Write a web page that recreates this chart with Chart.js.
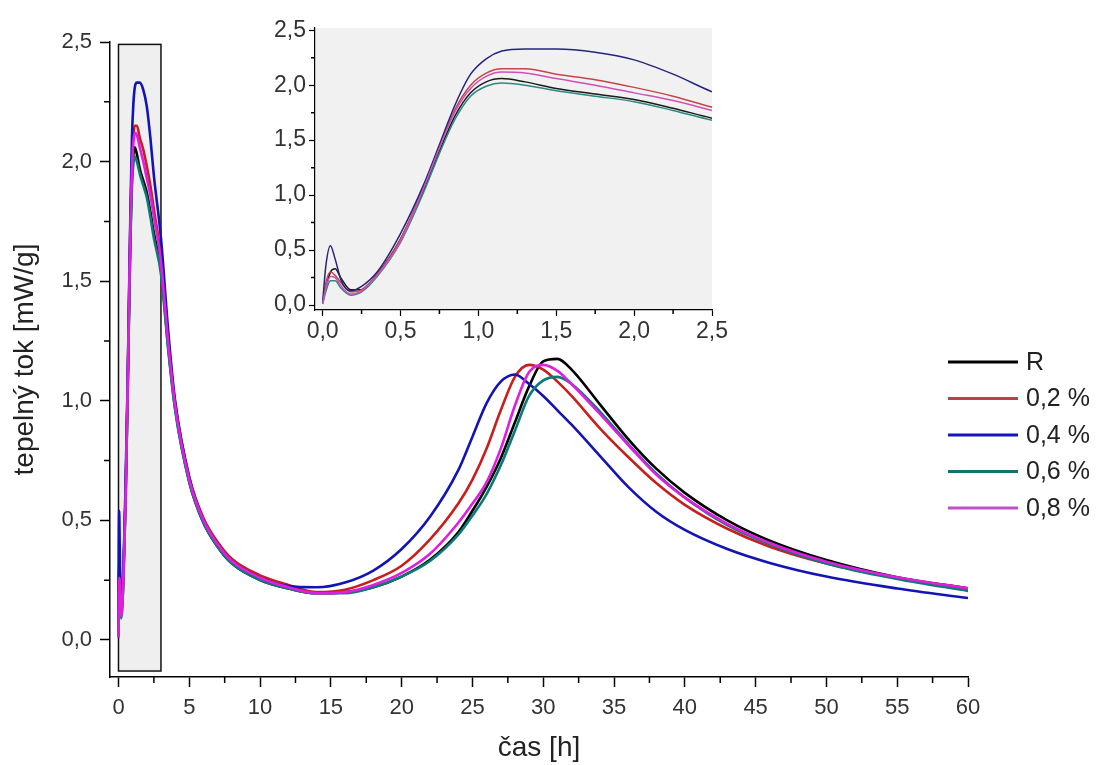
<!DOCTYPE html>
<html>
<head>
<meta charset="utf-8">
<script src="https://cdn.jsdelivr.net/npm/chart.js@4.4.0/dist/chart.umd.min.js"></script>
<style>
    body { margin: 0; background: #fff; }
    #wrap { position: relative; width: 1104px; height: 765px; }
    #main { position: absolute; left: 0; top: 0; }
    #inset { position: absolute; left: 240px; top: 10px; }
</style>
</head>
<body>
<div id="wrap">
    <canvas id="main" width="1104" height="765"></canvas>
    <canvas id="inset" width="490" height="340"></canvas>
</div>
<script>
// time [h]
var time = [0, 0.02, 0.05, 0.08, 0.12, 0.18, 0.25, 0.35, 0.5, 0.65, 0.75, 0.85, 0.95, 1.05, 1.15, 1.3, 1.5, 1.75, 2.0, 2.25, 2.5,
    3.0, 3.5, 4, 5, 6, 7, 8, 10, 12,
    14, 16, 18, 20, 22, 24, 25, 26, 27, 28, 29, 30, 31, 32, 34, 36, 38, 40, 43, 46, 50, 55, 60];

// heat flow [mW/g]
var seriesR = [0.02, 0.15, 0.30, 0.33, 0.24, 0.14, 0.14, 0.28, 0.60, 1.05, 1.40, 1.72, 1.93, 2.03, 2.06, 2.03, 1.97, 1.92, 1.87, 1.79, 1.70,
    1.55, 1.23, 0.97, 0.66, 0.49, 0.39, 0.32, 0.25, 0.215,
    0.195, 0.2, 0.22, 0.265, 0.335, 0.45, 0.54, 0.64, 0.76, 0.91, 1.06, 1.165, 1.175, 1.13, 0.985, 0.84, 0.715, 0.615, 0.50, 0.415, 0.334, 0.262, 0.216];
var series02 = [0.02, 0.20, 0.30, 0.27, 0.20, 0.12, 0.14, 0.28, 0.60, 1.08, 1.44, 1.78, 2.00, 2.11, 2.15, 2.15, 2.10, 2.05, 1.98, 1.90, 1.80,
    1.60, 1.26, 0.99, 0.68, 0.51, 0.41, 0.34, 0.27, 0.23,
    0.2, 0.21, 0.25, 0.31, 0.42, 0.57, 0.67, 0.8, 0.96, 1.1, 1.15, 1.13, 1.08, 1.02, 0.885, 0.765, 0.655, 0.565, 0.465, 0.39, 0.32, 0.26, 0.215];
var series04 = [0.02, 0.35, 0.54, 0.42, 0.22, 0.13, 0.17, 0.30, 0.65, 1.10, 1.46, 1.82, 2.10, 2.24, 2.31, 2.33, 2.33, 2.30, 2.23, 2.10, 1.94,
    1.68, 1.30, 1.00, 0.68, 0.50, 0.40, 0.33, 0.26, 0.225,
    0.22, 0.24, 0.29, 0.38, 0.515, 0.71, 0.85, 0.99, 1.08, 1.11, 1.07, 1.02, 0.96, 0.9, 0.77, 0.64, 0.535, 0.46, 0.38, 0.322, 0.265, 0.215, 0.175];
var series06 = [0.01, 0.12, 0.22, 0.22, 0.15, 0.09, 0.12, 0.26, 0.57, 1.03, 1.38, 1.69, 1.90, 1.99, 2.02, 2.00, 1.95, 1.90, 1.85, 1.77, 1.68,
    1.53, 1.22, 0.96, 0.66, 0.49, 0.39, 0.32, 0.25, 0.215,
    0.195, 0.195, 0.22, 0.265, 0.33, 0.44, 0.52, 0.61, 0.73, 0.875, 1.02, 1.085, 1.1, 1.07, 0.955, 0.82, 0.695, 0.595, 0.48, 0.4, 0.32, 0.255, 0.205];
var series08 = [0.01, 0.15, 0.26, 0.25, 0.17, 0.10, 0.13, 0.27, 0.58, 1.07, 1.43, 1.76, 1.97, 2.08, 2.12, 2.11, 2.06, 2.00, 1.93, 1.86, 1.77,
    1.58, 1.25, 0.98, 0.67, 0.50, 0.40, 0.33, 0.26, 0.22,
    0.195, 0.2, 0.23, 0.28, 0.36, 0.49, 0.57, 0.66, 0.8, 0.98, 1.12, 1.15, 1.125, 1.07, 0.945, 0.815, 0.69, 0.595, 0.485, 0.405, 0.327, 0.262, 0.216];

var seriesNames = ['R', '0,2 %', '0,4 %', '0,6 %', '0,8 %'];
var mainXTicks = [0, 5, 10, 15, 20, 25, 30, 35, 40, 45, 50, 55, 60];
var mainYTicks = [0, 0.5, 1.0, 1.5, 2.0, 2.5];
var insetTicks = [0, 0.5, 1.0, 1.5, 2.0, 2.5];

var allSeries = [seriesR, series02, series04, series06, series08];
var mainColors = ['#000000', '#c81e1e', '#1414b4', '#0a7a78', '#e01ee0'];
var insetColors = ['#1a1a1a', '#c04848', '#24247e', '#2a8a80', '#d050b8'];
var legendColors = ['#000000', '#c0404a', '#1414c0', '#107272', '#c050c8'];
var drawOrder = [5, 4, 3, 2, 1];

Chart.defaults.font.family = "'Liberation Sans', Arial, sans-serif";
Chart.defaults.color = '#333';

function buildSets(colors, width) {
    return allSeries.map(function (vals, i) {
        return {
            label: seriesNames[i],
            data: time.map(function (t, j) { return { x: t, y: vals[j] }; }),
            borderColor: colors[i],
            borderWidth: width,
            pointRadius: 0,
            fill: false,
            cubicInterpolationMode: 'monotone',
            order: drawOrder[i]
        };
    });
}

function midpoints(arr) {
    var out = [];
    for (var i = 0; i < arr.length - 1; i++) out.push((arr[i] + arr[i + 1]) / 2);
    return out;
}

function comma(v) { return v.toFixed(1).replace('.', ','); }

// short ticks between the labelled ones
function minorTicksPlugin(xVals, yVals, len) {
    return {
        id: 'minorTicks',
        afterDraw: function (chart) {
            var ctx = chart.ctx, xs = chart.scales.x, ys = chart.scales.y;
            ctx.save();
            ctx.strokeStyle = '#000';
            ctx.lineWidth = 1.5;
            ctx.beginPath();
            xVals.forEach(function (v) {
                var p = xs.getPixelForValue(v);
                ctx.moveTo(p, xs.top); ctx.lineTo(p, xs.top + len);
            });
            yVals.forEach(function (v) {
                var p = ys.getPixelForValue(v);
                ctx.moveTo(ys.right, p); ctx.lineTo(ys.right - len, p);
            });
            ctx.stroke();
            ctx.restore();
        }
    };
}

// grey box marking the zoomed part
var zoomBox = {
    id: 'zoomBox',
    beforeDatasetsDraw: function (chart) {
        var ctx = chart.ctx, xs = chart.scales.x, ys = chart.scales.y;
        var x1 = xs.getPixelForValue(0), x2 = xs.getPixelForValue(3);
        var y1 = ys.getPixelForValue(2.49), y2 = ys.getPixelForValue(-0.13);
        ctx.save();
        ctx.fillStyle = '#efefef';
        ctx.fillRect(x1, y1, x2 - x1, y2 - y1);
        ctx.strokeStyle = '#111';
        ctx.lineWidth = 1.5;
        ctx.strokeRect(x1, y1, x2 - x1, y2 - y1);
        ctx.restore();
    }
};

var sideLegend = {
    id: 'sideLegend',
    afterDraw: function (chart) {
        var ctx = chart.ctx;
        ctx.save();
        ctx.font = "25px 'Liberation Sans', Arial, sans-serif";
        ctx.textBaseline = 'middle';
        seriesNames.forEach(function (name, i) {
            var y = 362 + i * 36.5;
            ctx.strokeStyle = legendColors[i];
            ctx.lineWidth = 3;
            ctx.beginPath();
            ctx.moveTo(948, y); ctx.lineTo(1018, y);
            ctx.stroke();
            ctx.fillStyle = '#222';
            ctx.fillText(name, 1026, y + 1);
        });
        ctx.restore();
    }
};

var greyArea = {
    id: 'greyArea',
    beforeDraw: function (chart) {
        var a = chart.chartArea, ctx = chart.ctx;
        ctx.save();
        ctx.fillStyle = '#f1f1f1';
        ctx.fillRect(a.left, a.top, a.right - a.left, a.bottom - a.top);
        ctx.restore();
    }
};

var ctxMain = document.getElementById('main').getContext('2d');
var mainChart = new Chart(ctxMain, {
    type: 'line',
    data: { datasets: buildSets(mainColors, 2.6) },
    options: {
        responsive: false,
        animation: false,
        layout: { padding: { top: 42, right: 136, left: 0, bottom: 0 } },
        plugins: { legend: { display: false }, tooltip: { enabled: false } },
        scales: {
            x: {
                type: 'linear', min: -0.6, max: 60,
                afterBuildTicks: function (s) { s.ticks = mainXTicks.map(function (v) { return { value: v }; }); },
                afterFit: function (s) { s.height = 88; },
                ticks: { autoSkip: false, maxRotation: 0, padding: 8, font: { size: 22 }, callback: function (v) { return String(v); } },
                grid: { drawOnChartArea: false, tickLength: 10, color: '#000', tickWidth: 1.5 },
                border: { color: '#000', width: 1.5 },
                title: { display: true, text: 'čas [h]', font: { size: 28 }, color: '#222', padding: { top: 0, bottom: 0 } }
            },
            y: {
                type: 'linear', min: -0.155, max: 2.5,
                afterBuildTicks: function (s) { s.ticks = mainYTicks.map(function (v) { return { value: v }; }); },
                afterFit: function (s) { s.width = 110; },
                ticks: { autoSkip: false, padding: 8, font: { size: 22 }, callback: function (v) { return comma(v); } },
                grid: { drawOnChartArea: false, tickLength: 10, color: '#000', tickWidth: 1.5 },
                border: { color: '#000', width: 1.5 },
                title: { display: true, text: 'tepelný tok [mW/g]', font: { size: 28 }, color: '#222', padding: { top: 8, bottom: 0 } }
            }
        }
    },
    plugins: [zoomBox, minorTicksPlugin(midpoints(mainXTicks), midpoints(mainYTicks), 6), sideLegend]
});

var ctxInset = document.getElementById('inset').getContext('2d');
var insetChart = new Chart(ctxInset, {
    type: 'line',
    data: { datasets: buildSets(insetColors, 1.5) },
    options: {
        responsive: false,
        animation: false,
        layout: { padding: { top: 18, right: 13, left: 0, bottom: 0 } },
        plugins: { legend: { display: false }, tooltip: { enabled: false } },
        scales: {
            x: {
                type: 'linear', min: -0.049, max: 2.5,
                afterBuildTicks: function (s) { s.ticks = insetTicks.map(function (v) { return { value: v }; }); },
                afterFit: function (s) { s.height = 40; },
                ticks: { autoSkip: false, maxRotation: 0, padding: 2, font: { size: 23 }, callback: function (v) { return comma(v); } },
                grid: { drawOnChartArea: false, tickLength: 6, color: '#000', tickWidth: 1.2 },
                border: { color: '#000', width: 1.2 }
            },
            y: {
                type: 'linear', min: -0.045, max: 2.52,
                afterBuildTicks: function (s) { s.ticks = insetTicks.map(function (v) { return { value: v }; }); },
                afterFit: function (s) { s.width = 75; },
                ticks: { autoSkip: false, padding: 3, font: { size: 23 }, callback: function (v) { return comma(v); } },
                grid: { drawOnChartArea: false, tickLength: 6, color: '#000', tickWidth: 1.2 },
                border: { color: '#000', width: 1.2 }
            }
        }
    },
    plugins: [greyArea, minorTicksPlugin(midpoints(insetTicks), midpoints(insetTicks), 4)]
});
</script>
</body>
</html>
